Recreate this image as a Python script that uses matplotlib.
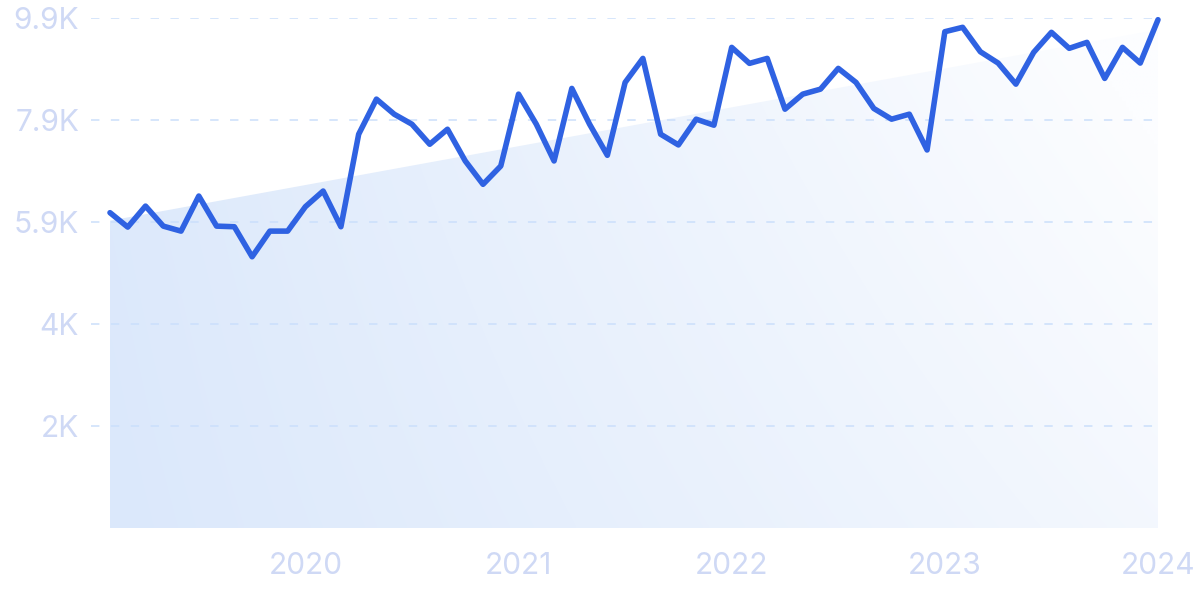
import numpy as np
import matplotlib.pyplot as plt
from matplotlib.patches import Polygon

# monthly values, Feb 2019 .. Jan 2024
values = [6121, 5841, 6249, 5860, 5763, 6444, 5860, 5848, 5265, 5763, 5763, 6237,
          6541, 5848, 7644, 8325, 8033, 7838, 7449, 7741, 7125, 6671, 7027, 8422,
          7838, 7125, 8533, 7838, 7235, 8649, 9116, 7644, 7436, 7936, 7819, 9330,
          9019, 9116, 8130, 8422, 8519, 8922, 8649, 8144, 7936, 8033, 7338, 9634,
          9719, 9245, 9025, 8616, 9233, 9622, 9311, 9427, 8727, 9330, 9025, 9867]
year_labels = ["2020", "2021", "2022", "2023", "2024"]
year_index = [11, 23, 35, 47, 59]
ytick_vals = [1980, 3960, 5940, 7920, 9900]
ytick_labels = ["2K", "4K", "5.9K", "7.9K", "9.9K"]

x = np.arange(len(values))
y = np.array(values)

# straight trend line for the shaded area
slope, icpt = np.polyfit(x, y, 1)
trend = slope * x + icpt

plt.rcParams['font.family'] = ['Inter', 'DejaVu Sans']

fig = plt.figure(figsize=(12, 6), dpi=100)
ax = fig.add_axes([91/1200, 72/600, (1158-91)/1200, (528-18)/600])
ax.set_xlim(-19/17.77, len(values) - 1)
ax.set_ylim(0, 9900)

# gradient fill under the trend, clipped to polygon
verts = [(x[0], 0)] + list(zip(x, trend)) + [(x[-1], 0)]
poly = Polygon(verts, closed=True, facecolor='none', edgecolor='none')
ax.add_patch(poly)
gx, gy = np.meshgrid(np.linspace(0, 1, 300), np.linspace(0, 1, 150))
t = np.clip(0.75 * gx + 0.25 * gx * gy + 0.08 * gy, 0, 1)
c0 = np.array([0xdb, 0xe8, 0xfb]) / 255.0
c1 = np.array([0xfc, 0xfd, 0xff]) / 255.0
img = c0[None, None, :] * (1 - t[..., None]) + c1[None, None, :] * t[..., None]
im = ax.imshow(img, extent=(x[0], x[-1], 0, trend.max()), origin='lower',
               aspect='auto', zorder=1, interpolation='bilinear')
im.set_clip_path(poly)

ax.plot(x, y, color='#2f62e2', linewidth=4, solid_joinstyle='round',
        solid_capstyle='round', zorder=3, clip_on=False)

ax.set_yticks(ytick_vals)
ax.set_yticklabels(ytick_labels)
ax.set_xticks(year_index)
ax.set_xticklabels(year_labels)
ax.tick_params(axis='both', length=0, labelcolor='#cfd9f5', labelsize=21.5)
ax.tick_params(axis='y', pad=8.5)
ax.tick_params(axis='x', pad=17)
ax.yaxis.grid(True, color='#cbdffb', linewidth=1.1, dashes=(5.5, 7.5), zorder=2)
ax.set_axisbelow(False)
for s in ax.spines.values():
    s.set_visible(False)

fig.savefig('out.png', dpi=100, facecolor='white')
